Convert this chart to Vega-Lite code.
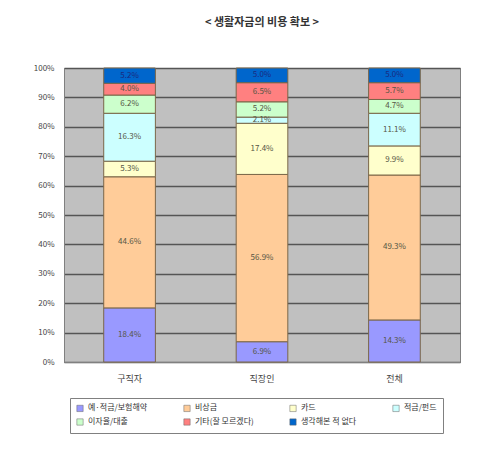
{
  "$schema": "https://vega.github.io/schema/vega-lite/v6.json",
  "width": 396,
  "height": 294,
  "autosize": {"type": "none"},
  "padding": {"left": 64, "top": 68, "right": 20, "bottom": 92},
  "background": "#ffffff",
  "title": {
    "text": "< 생활자금의 비용 확보 >",
    "font": "Noto Sans CJK KR",
    "fontSize": 11,
    "fontWeight": "bold",
    "color": "#333333",
    "offset": 36,
    "anchor": "middle"
  },
  "config": {
    "view": {"fill": "#c0c0c0", "stroke": "#808080"},
    "font": "Noto Sans CJK KR",
    "axisY": {
      "title": null,
      "labelFontSize": 8,
      "labelColor": "#444444",
      "gridColor": "#555555",
      "gridWidth": 1.5,
      "domainColor": "#808080",
      "ticks": false,
      "labelPadding": 10,
      "labelOverlap": false
    }
  },
  "data": {
    "values": [
      {"group": "구직자", "item": "예·적금/보험해약", "v": 18.4},
      {"group": "구직자", "item": "비상금", "v": 44.6},
      {"group": "구직자", "item": "카드", "v": 5.3},
      {"group": "구직자", "item": "적금/펀드", "v": 16.3},
      {"group": "구직자", "item": "이자율/대출", "v": 6.2},
      {"group": "구직자", "item": "기타(잘 모르겠다)", "v": 4.0},
      {"group": "구직자", "item": "생각해본 적 없다", "v": 5.2},
      {"group": "직장인", "item": "예·적금/보험해약", "v": 6.9},
      {"group": "직장인", "item": "비상금", "v": 56.9},
      {"group": "직장인", "item": "카드", "v": 17.4},
      {"group": "직장인", "item": "적금/펀드", "v": 2.1},
      {"group": "직장인", "item": "이자율/대출", "v": 5.2},
      {"group": "직장인", "item": "기타(잘 모르겠다)", "v": 6.5},
      {"group": "직장인", "item": "생각해본 적 없다", "v": 5.0},
      {"group": "전체", "item": "예·적금/보험해약", "v": 14.3},
      {"group": "전체", "item": "비상금", "v": 49.3},
      {"group": "전체", "item": "카드", "v": 9.9},
      {"group": "전체", "item": "적금/펀드", "v": 11.1},
      {"group": "전체", "item": "이자율/대출", "v": 4.7},
      {"group": "전체", "item": "기타(잘 모르겠다)", "v": 5.7},
      {"group": "전체", "item": "생각해본 적 없다", "v": 5.0}
    ]
  },
  "transform": [
    {"lookup": "item", "from": {"data": {"values": [
      {"item": "예·적금/보험해약", "k": 1},
      {"item": "비상금", "k": 2},
      {"item": "카드", "k": 3},
      {"item": "적금/펀드", "k": 4},
      {"item": "이자율/대출", "k": 5},
      {"item": "기타(잘 모르겠다)", "k": 6},
      {"item": "생각해본 적 없다", "k": 7}
    ]}, "key": "item", "fields": ["k"]}}
  ],
  "encoding": {
    "x": {
      "field": "group",
      "type": "nominal",
      "sort": ["구직자", "직장인", "전체"],
      "scale": {"paddingInner": 0.61, "paddingOuter": 0.3},
      "axis": {
        "title": null,
        "labelAngle": 0,
        "labelFontSize": 9,
        "labelColor": "#444444",
        "labelPadding": 12,
        "domainColor": "#808080",
        "ticks": false
      }
    }
  },
  "layer": [
    {
      "mark": {"type": "bar", "stroke": "#7a6648", "strokeWidth": 1},
      "encoding": {
        "y": {
          "field": "v",
          "type": "quantitative",
          "stack": "zero",
          "scale": {"domain": [0, 100]},
          "axis": {
            "values": [0, 10, 20, 30, 40, 50, 60, 70, 80, 90, 100],
            "labelExpr": "datum.value + '%'"
          }
        },
        "order": {"field": "k", "type": "quantitative"},
        "color": {
          "field": "item",
          "type": "nominal",
          "sort": ["예·적금/보험해약", "비상금", "카드", "적금/펀드", "이자율/대출", "기타(잘 모르겠다)", "생각해본 적 없다"],
          "scale": {
            "domain": ["예·적금/보험해약", "비상금", "카드", "적금/펀드", "이자율/대출", "기타(잘 모르겠다)", "생각해본 적 없다"],
            "range": ["#9999ff", "#ffcc99", "#ffffcc", "#ccffff", "#ccffcc", "#ff8080", "#0066cc"]
          },
          "legend": {
            "title": null,
            "orient": "none",
            "legendX": 6,
            "legendY": 330,
            "direction": "horizontal",
            "columns": 4,
            "columnPadding": 34,
            "rowPadding": 4,
            "symbolType": "square",
            "symbolSize": 40,
            "symbolStrokeColor": "#666666",
            "symbolStrokeWidth": 0.5,
            "labelFontSize": 8,
            "labelColor": "#333333",
            "labelLimit": 90,
            "fillColor": "#ffffff",
            "strokeColor": "#808080",
            "padding": 6
          }
        }
      }
    },
    {
      "transform": [
        {"stack": "v", "groupby": ["group"], "sort": [{"field": "k"}], "as": ["s0", "s1"]},
        {"calculate": "(datum.s0 + datum.s1) / 2", "as": "mid"},
        {"calculate": "format(datum.v, '.1f') + '%'", "as": "lbl"}
      ],
      "mark": {"type": "text", "fontSize": 8, "baseline": "middle"},
      "encoding": {
        "y": {
          "field": "mid",
          "type": "quantitative",
          "scale": {"domain": [0, 100]},
          "axis": {
            "values": [0, 10, 20, 30, 40, 50, 60, 70, 80, 90, 100],
            "labelExpr": "datum.value + '%'"
          }
        },
        "text": {"field": "lbl"},
        "color": {
          "condition": {"test": "datum.item === '생각해본 적 없다'", "value": "#1a2a80"},
          "value": "#555544"
        }
      }
    }
  ]
}
